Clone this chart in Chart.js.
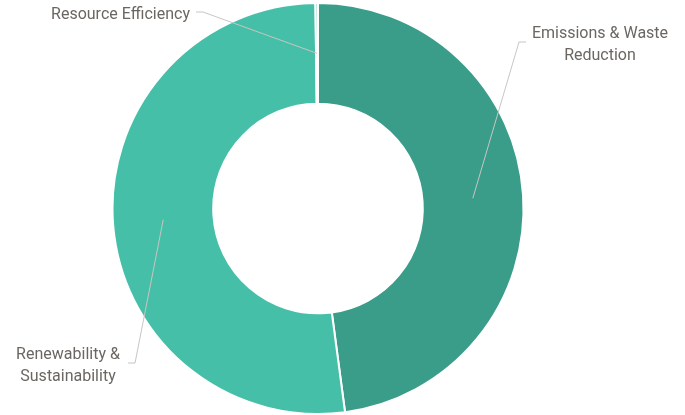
<!DOCTYPE html>
<html>
<head>
<meta charset="utf-8">
<script src="https://cdn.jsdelivr.net/npm/chart.js@4"></script>
<style>
  html, body { margin: 0; padding: 0; background: #fff; }
  canvas { display: block; }
</style>
</head>
<body>
<canvas id="focusAreas" width="685" height="415"></canvas>
<script>
// share of initiatives per focus area (%)
var categories = ["Emissions & Waste Reduction", "Renewability & Sustainability", "Resource Efficiency"];
var shares = [47.9, 51.9, 0.2];
var sliceColors = ['#3a9d89', '#46bfa8', '#8fd8c7'];

// label text lines and where each leader line bends
var labelLines = [["Emissions & Waste", "Reduction"], ["Renewability &", "Sustainability"], ["Resource Efficiency"]];
var labelElbows = [
    { x: 519, y: 42, dir: 1, textX: 600 },
    { x: 135, y: 363, dir: -1, textX: 68 },
    { x: 203, y: 12, dir: -1, textX: 190, align: 'right' }
];

var leaderLabels = {
    id: 'leaderLabels',
    afterDatasetsDraw: function (chart) {
        var ctx = chart.ctx;
        var arcs = chart.getDatasetMeta(0).data;
        ctx.save();
        ctx.font = '16px Roboto';
        ctx.textBaseline = 'middle';
        arcs.forEach(function (arc, i) {
            var p = arc.getProps(['x', 'y', 'startAngle', 'endAngle', 'innerRadius', 'outerRadius'], true);
            var mid = (p.startAngle + p.endAngle) / 2;
            var r = (p.innerRadius + p.outerRadius) / 2;
            var sx = p.x + Math.cos(mid) * r;
            var sy = p.y + Math.sin(mid) * r;
            var e = labelElbows[i];
            ctx.strokeStyle = '#c9c5c1';
            ctx.lineWidth = 1;
            ctx.beginPath();
            ctx.moveTo(sx, sy);
            ctx.lineTo(e.x, e.y);
            ctx.lineTo(e.x + e.dir * 7, e.y);
            ctx.stroke();

            ctx.fillStyle = '#6b6662';
            ctx.textAlign = e.align || 'center';
            var lines = labelLines[i];
            var top = lines.length === 1 ? e.y + 3 : e.y - 8;
            lines.forEach(function (t, k) {
                ctx.fillText(t, e.textX, top + k * 22);
            });
        });
        ctx.restore();
    }
};

var ctx = document.getElementById('focusAreas').getContext('2d');
var focusChart = new Chart(ctx, {
    type: 'doughnut',
    data: {
        labels: categories,
        datasets: [{
            data: shares,
            backgroundColor: sliceColors,
            borderColor: '#ffffff',
            borderWidth: 2
        }]
    },
    options: {
        responsive: false,
        animation: false,
        cutout: '51%',
        layout: { padding: { top: 2, bottom: 0, left: 0, right: 49 } },
        plugins: {
            legend: { display: false },
            tooltip: { enabled: false }
        }
    },
    plugins: [leaderLabels]
});
</script>
</body>
</html>
